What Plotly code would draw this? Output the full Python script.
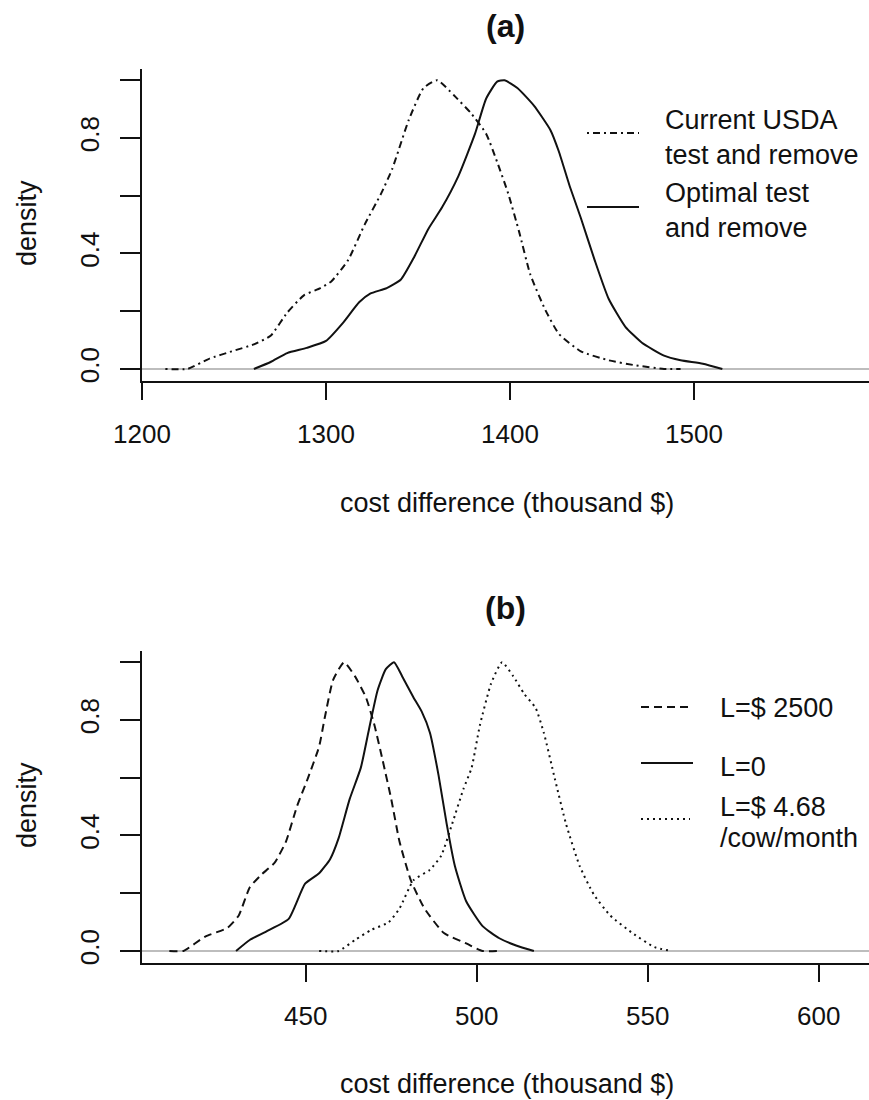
import plotly.graph_objects as go

# ---- Panel (a): scaled density of cost difference, thousand $ ----
usda_x = [1212.7, 1224.7, 1236.7, 1248.8, 1260.8, 1269.9, 1278.9, 1288.0, 1297.0, 1303.0,
          1312.0, 1321.0, 1330.0, 1336.0, 1345.0, 1353.0, 1360.5, 1369.5, 1378.5, 1387.0,
          1393.0, 1399.0, 1405.0, 1411.0, 1419.0, 1426.5, 1438.5, 1453.6, 1468.7, 1483.7, 1492.7]
usda_y = [0.0, 0.0, 0.036, 0.061, 0.085, 0.115, 0.195, 0.255, 0.28, 0.304,
          0.377, 0.5, 0.608, 0.693, 0.863, 0.973, 1.0, 0.948, 0.888, 0.815,
          0.717, 0.608, 0.474, 0.328, 0.207, 0.122, 0.061, 0.030, 0.012, 0.0, 0.0]

optimal_x = [1260.8, 1269.9, 1278.9, 1289.5, 1300.0, 1309.0, 1318.0, 1324.0, 1333.0, 1340.7,
             1348.0, 1355.7, 1363.0, 1372.0, 1381.0, 1387.0, 1393.0, 1397.0, 1404.0, 1413.0,
             1422.0, 1426.5, 1432.5, 1438.5, 1446.0, 1453.6, 1462.7, 1471.7, 1483.7, 1492.7,
             1504.8, 1515.4]
optimal_y = [0.0, 0.024, 0.055, 0.073, 0.097, 0.158, 0.231, 0.261, 0.28, 0.31,
             0.389, 0.486, 0.559, 0.669, 0.815, 0.936, 0.995, 1.0, 0.973, 0.912,
             0.827, 0.754, 0.632, 0.523, 0.377, 0.243, 0.146, 0.091, 0.046, 0.030,
             0.018, 0.0]

# ---- Panel (b): scaled density for three loss values ----
l2500_x = [410.1, 414.2, 420.6, 427.1, 430.4, 433.6, 436.9, 440.9, 444.2, 447.4, 450.6,
           453.9, 455.5, 458.0, 461.2, 464.4, 467.6, 470.1, 472.5, 475.0, 477.4, 480.7,
           484.7, 490.4, 496.9, 501.7, 506.6]
l2500_y = [0.0, 0.0, 0.05, 0.08, 0.123, 0.22, 0.263, 0.306, 0.379, 0.5, 0.598,
           0.708, 0.805, 0.939, 1.0, 0.951, 0.878, 0.781, 0.659, 0.525, 0.379, 0.245,
           0.147, 0.062, 0.026, 0.0, 0.0]

l0_x = [429.6, 433.6, 438.5, 445.0, 449.8, 453.9, 457.1, 459.6, 462.8, 466.1, 468.5,
        471.0, 473.4, 475.8, 478.2, 481.5, 483.9, 486.3, 488.8, 491.2, 493.6, 496.9,
        501.7, 506.6, 511.5, 516.7]
l0_y = [0.0, 0.038, 0.068, 0.111, 0.233, 0.269, 0.318, 0.391, 0.525, 0.635, 0.769,
        0.903, 0.976, 1.0, 0.951, 0.878, 0.829, 0.756, 0.610, 0.44, 0.294, 0.172,
        0.086, 0.044, 0.019, 0.0]

l468_x = [453.9, 459.6, 464.4, 469.3, 474.2, 477.4, 481.5, 486.3, 489.6, 492.8, 496.1,
          498.5, 500.9, 504.2, 507.4, 510.7, 513.9, 517.2, 519.6, 522.8, 526.1, 530.1,
          534.2, 539.0, 545.5, 552.0, 556.9]
l468_y = [0.0, 0.0, 0.038, 0.074, 0.099, 0.147, 0.245, 0.281, 0.33, 0.44, 0.561,
          0.635, 0.781, 0.927, 1.0, 0.951, 0.89, 0.842, 0.756, 0.598, 0.44, 0.294,
          0.196, 0.123, 0.062, 0.013, 0.0]

xticks_a = [1200, 1300, 1400, 1500, 1600]
xticks_b = [450, 500, 550, 600]
yticks = [0.0, 0.2, 0.4, 0.6, 0.8, 1.0]
ytick_text = ["0.0", "", "0.4", "", "0.8", ""]

INK = "#111111"
FONT = "Liberation Sans, Arial, sans-serif"
DASHDOT = "2px,4px,7px,4px"
DASHED = "8px,5px"
DOTTED = "2px,4px"

fig = go.Figure()


def curve(x, y, dash, xa, ya):
    fig.add_trace(go.Scatter(x=x, y=y, mode="lines", xaxis=xa, yaxis=ya,
                             line=dict(color=INK, width=2, dash=dash, shape="spline",
                                       smoothing=0.5),
                             showlegend=False, hoverinfo="skip"))


curve(usda_x, usda_y, DASHDOT, "x", "y")
curve(optimal_x, optimal_y, "solid", "x", "y")
curve(l2500_x, l2500_y, DASHED, "x2", "y2")
curve(l0_x, l0_y, "solid", "x2", "y2")
curve(l468_x, l468_y, DOTTED, "x2", "y2")

W, H = 869, 1100
x_dom = [142 / W, 1.0]
ya_dom = [1 - 380.5 / H, 1 - 68.7 / H]
yb_dom = [1 - 962.5 / H, 1 - 650.7 / H]

tickfont = dict(family=FONT, size=26, color=INK)
common_x = dict(showline=True, linecolor=INK, linewidth=2, ticks="outside", ticklen=17,
                tickwidth=2, tickcolor=INK, showgrid=False, zeroline=False,
                tickfont=tickfont, ticklabelstandoff=12, automargin=False)
common_y = dict(showline=True, linecolor=INK, linewidth=2, ticks="outside", ticklen=20,
                tickwidth=2, tickcolor=INK, showgrid=False, zeroline=True,
                zerolinecolor="#bdbdbd", zerolinewidth=2, range=[-0.04, 1.04],
                tickmode="array", tickvals=yticks, ticktext=ytick_text, tickangle=-90,
                tickfont=tickfont, ticklabelstandoff=11, automargin=False)

fig.update_layout(
    template="none",
    width=W, height=H, margin=dict(l=0, r=0, t=0, b=0, pad=0, autoexpand=False),
    paper_bgcolor="white", plot_bgcolor="white",
    xaxis=dict(domain=x_dom, anchor="y", range=[1200, 1595.1], tickmode="array",
               tickvals=xticks_a, **common_x),
    yaxis=dict(domain=ya_dom, anchor="x", **common_y),
    xaxis2=dict(domain=x_dom, anchor="y2", range=[402.1, 614.7], tickmode="array",
                tickvals=xticks_b, **common_x),
    yaxis2=dict(domain=yb_dom, anchor="x2", **common_y),
)


def text(x, y, s, xanchor="center", angle=0, bold=False, size=27):
    fig.add_annotation(x=x / W, y=1 - y / H, xref="paper", yref="paper", text=s,
                       showarrow=False, xanchor=xanchor, yanchor="middle",
                       textangle=angle,
                       font=dict(family=FONT, size=size, color=INK,
                                 weight="bold" if bold else "normal"))


# panel titles and axis titles
text(505, 26, "(a)", bold=True, size=32)
text(505, 608, "(b)", bold=True, size=32)
text(507, 503, "cost difference (thousand $)")
text(507, 1084, "cost difference (thousand $)")
text(27, 223, "density", angle=-90)
text(27, 805, "density", angle=-90)


def key(x0, x1, y, dash):
    fig.add_shape(type="line", xref="paper", yref="paper", x0=x0 / W, x1=x1 / W,
                  y0=1 - y / H, y1=1 - y / H, line=dict(color=INK, width=2, dash=dash))


# legend of panel (a)
key(587, 639, 133, DASHDOT)
text(663, 120, "Current USDA", xanchor="left")
text(663, 155, "test and remove", xanchor="left")
key(587, 639, 207, "solid")
text(663, 193, "Optimal test", xanchor="left")
text(663, 228, "and remove", xanchor="left")

# legend of panel (b)
key(641, 693, 707, DASHED)
text(718, 708, "L=$ 2500", xanchor="left")
key(641, 693, 763, "solid")
text(718, 767, "L=0", xanchor="left")
key(641, 690, 819, DOTTED)
text(718, 807, "L=$ 4.68", xanchor="left")
text(718, 838, "/cow/month", xanchor="left")

fig.write_html("out.html")
